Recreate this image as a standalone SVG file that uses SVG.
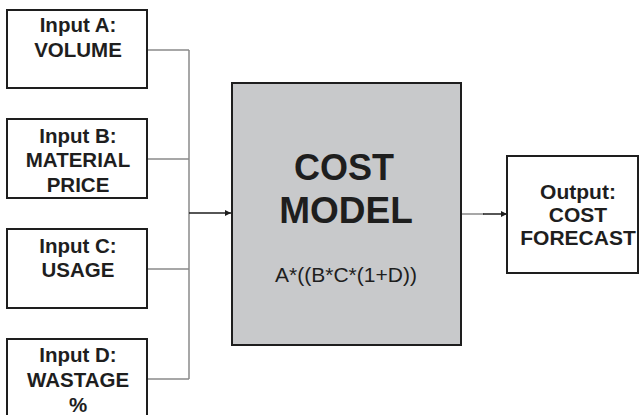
<svg xmlns="http://www.w3.org/2000/svg" width="639" height="415" viewBox="0 0 639 415">
<defs>
<style>
.box{fill:#fff;stroke:#1e1e1e;stroke-width:2}
.t{font-family:"Liberation Sans",Arial,sans-serif;font-weight:bold;font-size:20.5px;fill:#1e1e1e;text-anchor:middle}
.c{fill:none;stroke:#8a8a8a;stroke-width:1.5}
.a{fill:none;stroke:#1e1e1e;stroke-width:1.5}
</style>
<marker id="ah" viewBox="0 0 10 10" refX="10" refY="5" markerWidth="6" markerHeight="6" markerUnits="userSpaceOnUse" orient="auto">
<path d="M0,0 L10,5 L0,10 z" fill="#1e1e1e"/>
</marker>
</defs>
<rect width="639" height="415" fill="#fff"/>
<g id="connectors">
<path class="c" d="M147,50 H189 M147,159 H189 M147,269 H189 M147,379 H189 M189,50 V379"/>
<path class="a" d="M189,213 H231" marker-end="url(#ah)"/>
<path class="c" d="M461,214 H484"/>
<path class="a" d="M483,214 H507" marker-end="url(#ah)"/>
</g>
<g id="inputA">
<rect class="box" x="7" y="10" width="140" height="78"/>
<text class="t" x="78" y="32">Input A:</text>
<text class="t" x="78" y="57">VOLUME</text>
</g>
<g id="inputB">
<rect class="box" x="7" y="119" width="140" height="79"/>
<text class="t" x="78" y="143">Input B:</text>
<text class="t" x="78" y="167">MATERIAL</text>
<text class="t" x="78" y="192">PRICE</text>
</g>
<g id="inputC">
<rect class="box" x="7" y="229" width="140" height="79"/>
<text class="t" x="78" y="253">Input C:</text>
<text class="t" x="78" y="277">USAGE</text>
</g>
<g id="inputD">
<rect class="box" x="7" y="339" width="140" height="80"/>
<text class="t" x="78" y="362">Input D:</text>
<text class="t" x="78" y="387">WASTAGE</text>
<text class="t" x="78" y="412">%</text>
</g>
<g id="costModel">
<rect x="232" y="83" width="229" height="262" fill="#c8c9cb" stroke="#1e1e1e" stroke-width="2"/>
<text class="t" x="344" y="180" style="font-size:36px">COST</text>
<text class="t" x="346" y="223" style="font-size:37px">MODEL</text>
<text class="t" x="346" y="282" style="font-weight:normal;font-size:21px">A*((B*C*(1+D))</text>
</g>
<g id="output">
<rect class="box" x="507" y="156" width="131" height="117"/>
<text class="t" x="578" y="199" style="font-size:21px">Output:</text>
<text class="t" x="578" y="222" style="font-size:21px">COST</text>
<text class="t" x="578" y="245" style="font-size:21px">FORECAST</text>
</g>
</svg>
